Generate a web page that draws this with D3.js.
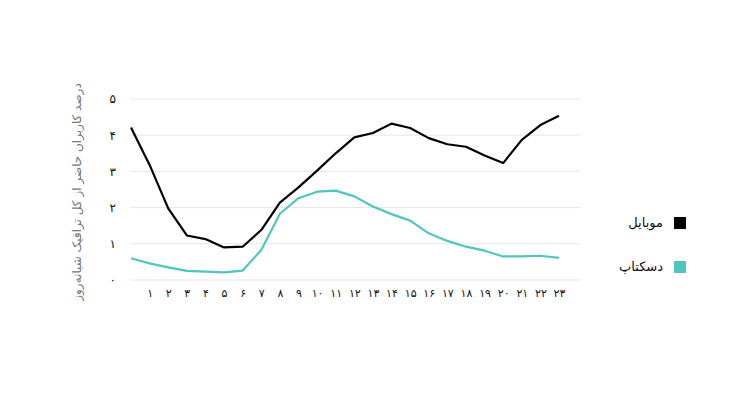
<!DOCTYPE html>
<html>
<head>
<meta charset="utf-8">
<script src="https://cdn.jsdelivr.net/npm/d3@7"></script>
<style>
  body { margin: 0; background: #fff; }
  text { font-family: "DejaVu Sans", sans-serif; }
</style>
</head>
<body>
<svg class="chart" width="750" height="420"></svg>
<script>
// hours of the day, 0..23 (hour 0 has no label in the original)
var hours = d3.range(0, 24);
var hourLabels = ["۱","۲","۳","۴","۵","۶","۷","۸","۹","۱۰","۱۱","۱۲","۱۳","۱۴","۱۵","۱۶","۱۷","۱۸","۱۹","۲۰","۲۱","۲۲","۲۳"];
var yTickLabels = ["۰","۱","۲","۳","۴","۵"];

// percent of daily traffic per hour
var mobile  = [4.21, 3.18, 1.98, 1.23, 1.13, 0.90, 0.92, 1.38, 2.14, 2.56, 3.02, 3.50,
               3.94, 4.06, 4.32, 4.20, 3.92, 3.75, 3.68, 3.44, 3.23, 3.87, 4.28, 4.54];
var desktop = [0.60, 0.46, 0.35, 0.25, 0.23, 0.21, 0.26, 0.83, 1.83, 2.26, 2.44, 2.47,
               2.31, 2.03, 1.82, 1.64, 1.29, 1.08, 0.92, 0.81, 0.65, 0.65, 0.67, 0.61];

var seriesNames = ["موبایل", "دسکتاپ"];
var colors = ["#000000", "#4fc6be"];
var yTitle = "درصد کاربران حاضر از کل ترافیک شبانه‌روز";

var chart = d3.select('.chart');

var x = d3.scalePoint()
    .domain(hours)
    .range([131, 559]);

var y = d3.scaleLinear()
    .domain([0, 5])
    .range([280, 99]);

var gridRight = 580;

// grid lines
chart.append('g')
    .selectAll('line')
    .data(d3.range(0, 6))
    .enter().append('line')
    .attr('x1', 130)
    .attr('x2', gridRight)
    .attr('y1', function(d) { return y(d); })
    .attr('y2', function(d) { return y(d); })
    .style('stroke', '#e6e6e6')
    .style('stroke-width', '1px');

// y axis labels
var yAxis = d3.axisLeft(y)
    .tickValues(d3.range(0, 6))
    .tickSize(0)
    .tickPadding(15)
    .tickFormat(function(d) { return yTickLabels[d]; });

var yG = chart.append('g')
    .attr('transform', 'translate(131,0)')
    .call(yAxis);
yG.select('.domain').remove();
yG.selectAll('text')
    .style('font-size', '12px')
    .style('fill', '#111')
    .style('font-family', '"DejaVu Sans", sans-serif');

// x axis labels
var xAxis = d3.axisBottom(x)
    .tickValues(hours.slice(1))
    .tickSize(0)
    .tickPadding(9)
    .tickFormat(function(d) { return hourLabels[d - 1]; });

var xG = chart.append('g')
    .attr('transform', 'translate(0,280)')
    .call(xAxis);
xG.select('.domain').remove();
xG.selectAll('text')
    .style('font-size', '11px')
    .style('fill', '#111')
    .style('font-family', '"DejaVu Sans", sans-serif');

// y axis title
chart.append('text')
    .attr('transform', 'translate(77,192) rotate(-90)')
    .attr('text-anchor', 'middle')
    .attr('dominant-baseline', 'middle')
    .style('font-size', '12px')
    .style('fill', '#777')
    .text(yTitle);

var line = d3.line()
    .x(function(d, i) { return x(hours[i]); })
    .y(function(d) { return y(d); });

// desktop first so mobile sits on top
[desktop, mobile].forEach(function(s, k) {
    chart.append('path')
        .datum(s)
        .attr('d', line)
        .style('fill', 'none')
        .style('stroke', k == 0 ? colors[1] : colors[0])
        .style('stroke-width', '2.2px')
        .style('stroke-linejoin', 'round');
});

// legend
var legend = chart.append('g')
    .selectAll('g')
    .data(seriesNames)
    .enter().append('g')
    .attr('transform', function(d, i) { return 'translate(0,' + (223 + i * 44) + ')'; });

legend.append('rect')
    .attr('x', 674)
    .attr('y', -6)
    .attr('width', 12)
    .attr('height', 12)
    .style('fill', function(d, i) { return colors[i]; });

legend.append('text')
    .attr('x', 663)
    .attr('y', 0)
    .attr('text-anchor', 'end')
    .attr('dominant-baseline', 'middle')
    .style('font-size', '13px')
    .style('fill', '#111')
    .text(function(d) { return d; });
</script>
</body>
</html>
